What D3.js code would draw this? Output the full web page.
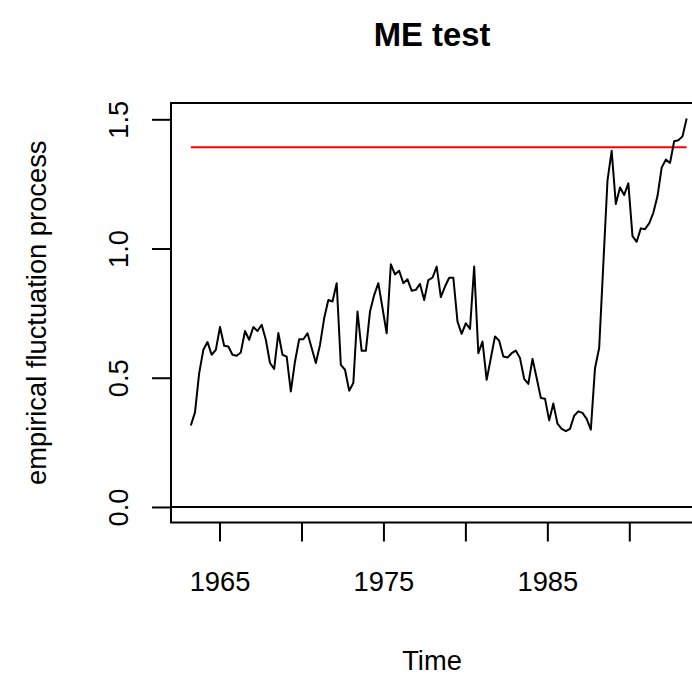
<!DOCTYPE html>
<html>
<head>
<meta charset="utf-8">
<script src="https://cdn.jsdelivr.net/npm/d3@7"></script>
<style>
  html, body { margin: 0; padding: 0; background: #fff; }
  svg { display: block; font-family: "Liberation Sans", Arial, Helvetica, sans-serif; }
</style>
</head>
<body>
<svg id="chart" width="692" height="676"></svg>
<script>
// Moving-estimates (ME) empirical fluctuation process
const startTime = 1963.25;
const endTime = 1993.5;
const processValues = [
  0.315, 0.366, 0.518, 0.608, 0.638, 0.589, 0.608, 0.696, 0.624, 0.621,
  0.589, 0.585, 0.598, 0.681, 0.647, 0.696, 0.681, 0.705, 0.647, 0.557,
  0.534, 0.673, 0.589, 0.582, 0.447, 0.563, 0.649, 0.649, 0.672, 0.615,
  0.557, 0.627, 0.730, 0.801, 0.795, 0.866, 0.550, 0.531, 0.450, 0.480,
  0.756, 0.604, 0.604, 0.756, 0.820, 0.866, 0.770, 0.672, 0.939, 0.900,
  0.914, 0.866, 0.881, 0.837, 0.840, 0.863, 0.801, 0.878, 0.887, 0.930,
  0.812, 0.853, 0.887, 0.887, 0.717, 0.670, 0.711, 0.689, 0.930, 0.595,
  0.640, 0.492, 0.576, 0.660, 0.643, 0.582, 0.578, 0.595, 0.605, 0.576,
  0.496, 0.476, 0.573, 0.499, 0.422, 0.419, 0.335, 0.400, 0.322, 0.302,
  0.293, 0.302, 0.353, 0.370, 0.364, 0.341, 0.299, 0.537, 0.615, 0.940,
  1.264, 1.378, 1.172, 1.236, 1.207, 1.252, 1.048, 1.026, 1.078, 1.075,
  1.097, 1.138, 1.203, 1.313, 1.344, 1.331, 1.415, 1.419, 1.434, 1.503
];
const boundaryValue = 1.392;
const xTicks = [1965, 1970, 1975, 1980, 1985, 1990];
const xTickLabels = ["1965", "", "1975", "", "1985", ""];
const yTicks = [0, 0.5, 1.0, 1.5];
const yTickLabels = ["0.0", "0.5", "1.0", "1.5"];
const titleText = "ME test";
const xLabel = "Time";
const yLabel = "empirical fluctuation process";

const n = processValues.length;
const times = processValues.map((_, i) => startTime + i * (endTime - startTime) / (n - 1));
const series = processValues.map((v, i) => ({ t: times[i], v }));

const svg = d3.select("#chart");
const labelSize = 27.3;
const lineW = 2;

// plot region (right edge lies past the window)
const plot = { left: 171, right: 706.5, top: 103, bottom: 522.5 };

// R-style 4% axis padding
const tSpan = endTime - startTime;
const x = d3.scaleLinear()
  .domain([startTime - 0.04 * tSpan, endTime + 0.04 * tSpan])
  .range([plot.left, plot.right]);

const yMax = d3.max(processValues);
const yMin = 0;
const ySpan = yMax - yMin;
const y = d3.scaleLinear()
  .domain([yMin - 0.04 * ySpan, yMax + 0.04 * ySpan])
  .range([plot.bottom, plot.top]);

svg.append("defs").append("clipPath").attr("id", "plotClip")
  .append("rect")
  .attr("x", plot.left).attr("y", plot.top)
  .attr("width", plot.right - plot.left).attr("height", plot.bottom - plot.top);

const g = svg.append("g").attr("clip-path", "url(#plotClip)");

// zero reference line
g.append("line")
  .attr("x1", plot.left).attr("x2", plot.right)
  .attr("y1", y(0)).attr("y2", y(0))
  .attr("stroke", "#000").attr("stroke-width", lineW);

// boundary
g.append("line")
  .attr("x1", x(startTime)).attr("x2", x(endTime))
  .attr("y1", y(boundaryValue)).attr("y2", y(boundaryValue))
  .attr("stroke", "#ff0000").attr("stroke-width", lineW);

// process
g.append("path")
  .datum(series)
  .attr("fill", "none")
  .attr("stroke", "#000")
  .attr("stroke-width", lineW)
  .attr("stroke-linejoin", "round")
  .attr("d", d3.line().x(d => x(d.t)).y(d => y(d.v)));

// box
svg.append("rect")
  .attr("x", plot.left).attr("y", plot.top)
  .attr("width", plot.right - plot.left).attr("height", plot.bottom - plot.top)
  .attr("fill", "none").attr("stroke", "#000").attr("stroke-width", lineW);

// x axis
const xAxis = d3.axisBottom(x)
  .tickValues(xTicks)
  .tickSize(19)
  .tickPadding(30)
  .tickFormat((d, i) => xTickLabels[i]);
const gx = svg.append("g")
  .attr("transform", `translate(0,${plot.bottom})`)
  .call(xAxis);
gx.select(".domain").remove();
gx.selectAll(".tick line").attr("stroke", "#000").attr("stroke-width", lineW);
gx.selectAll(".tick text")
  .attr("font-size", labelSize)
  .attr("fill", "#000")
  .attr("font-family", "Liberation Sans, Arial, sans-serif");

// y axis
const yAxis = d3.axisLeft(y)
  .tickValues(yTicks)
  .tickSize(19)
  .tickFormat((d, i) => yTickLabels[i]);
const gy = svg.append("g")
  .attr("transform", `translate(${plot.left},0)`)
  .call(yAxis);
gy.select(".domain").remove();
gy.selectAll(".tick line").attr("stroke", "#000").attr("stroke-width", lineW);
gy.selectAll(".tick text")
  .attr("x", null).attr("dy", null)
  .attr("text-anchor", "middle")
  .attr("dominant-baseline", "central")
  .attr("transform", "translate(-53,0) rotate(-90)")
  .attr("font-size", labelSize)
  .attr("fill", "#000")
  .attr("font-family", "Liberation Sans, Arial, sans-serif");

// title and axis titles
svg.append("text")
  .attr("x", 432).attr("y", 46)
  .attr("text-anchor", "middle")
  .attr("font-size", 32.8)
  .attr("font-weight", "bold")
  .text(titleText);

svg.append("text")
  .attr("x", 432).attr("y", 670)
  .attr("text-anchor", "middle")
  .attr("font-size", labelSize)
  .text(xLabel);

svg.append("text")
  .attr("transform", `translate(46,${(plot.top + plot.bottom) / 2}) rotate(-90)`)
  .attr("text-anchor", "middle")
  .attr("font-size", labelSize)
  .text(yLabel);
</script>
</body>
</html>
